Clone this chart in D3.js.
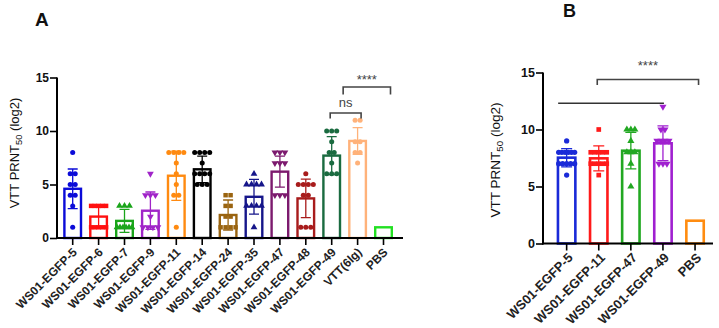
<!DOCTYPE html>
<html><head><meta charset="utf-8">
<script src="https://cdn.jsdelivr.net/npm/d3@7/dist/d3.min.js"></script>
<style>
html,body{margin:0;padding:0;background:#fff;}
svg{display:block;}
text{font-family:"Liberation Sans",Arial,sans-serif;}
</style></head>
<body>
<svg id="chart" width="719" height="328"></svg>
<script>
// ---------- Panel A data ----------
const catsA = ["WS01-EGFP-5","WS01-EGFP-6","WS01-EGFP-7","WS01-EGFP-9","WS01-EGFP-11","WS01-EGFP-14","WS01-EGFP-24","WS01-EGFP-35","WS01-EGFP-47","WS01-EGFP-48","WS01-EGFP-49","VTT(6lg)","PBS"];
const meansA = [4.6, 2.0, 1.6, 2.55, 5.82, 6.42, 2.15, 3.85, 6.2, 3.7, 7.7, 9.07, 1.0];
const sdA = [1.85, 1.05, 1.08, 1.75, 2.3, 1.24, 1.4, 1.62, 1.45, 1.8, 1.77, 1.25, 0];
const pointsA = [
  [8,6,6,5,5,4,4,3,1],
  [3,3,3,3,3,1,1,1,1,1],
  [3,3,3,1,1,1,1,1,1],
  [6,4,4,4,2,1,1,1,1],
  [8,8,8,8,7,6,5,4,4,1],
  [8,8,8,8,7,6,6,6,6,5,5,5],
  [4,4,3,3,2,2,1,1,1,1],
  [6,5,5,5,5,3,3,3,3,1],
  [8,8,8,7,7,7,4,4,4],
  [6,5,5,5,5,4,4,1,1,1],
  [10,10,10,9,8,8,7,6,6,6],
  [11,11,9,9,8,8,7],
  []
];
const colorsA = ["#0b0bd8","#ff1010","#1aa51a","#a024c8","#ff8a10","#000000","#9a6410","#16168a","#7c1a6e","#a81c1c","#1a6b40","#ffb27a","#22e022"];
const shapesA = ["circle","square","triangle","tridown","circle","circle","square","triangle","tridown","circle","circle","circle","none"];
// ---------- Panel B data ----------
const catsB = ["WS01-EGFP-5","WS01-EGFP-11","WS01-EGFP-47","WS01-EGFP-49","PBS"];
const meansB = [7.53, 7.47, 8.14, 8.79, 2.0];
const sdB = [0.8, 1.1, 1.6, 1.52, 0];
const pointsB = [
  [9,8,8,8,8,8,8,7,7,7,7,7,6],
  [10,8,8,8,8,8,7,7,7,7,7,6],
  [10,10,10,9,8,8,8,7,5],
  [12,10,10,9,9,9,9,7,7,7],
  []
];
const colorsB = ["#1a2ad8","#ff1a1a","#22a822","#a020d0","#ff8c10"];
const shapesB = ["circle","square","triangle","tridown","none"];
const yTicks = [0,5,10,15];

const svg = d3.select("#chart");

function symbolPath(shape, size){
  if(shape==="circle") return d3.symbol(d3.symbolCircle, size)();
  if(shape==="square") return d3.symbol(d3.symbolSquare, size)();
  return d3.symbol(d3.symbolTriangle, size)();
}

function panel(cfg){
  const g = svg.append("g");
  const y = d3.scaleLinear().domain([0,15]).range([cfg.y0, cfg.y15]);
  const x = d3.scaleBand().domain(cfg.cats).range(cfg.xRange).padding(0);
  const bw = cfg.barW;
  const sw = cfg.barStroke;

  // bars
  g.selectAll("rect.bar").data(cfg.cats).join("rect")
    .attr("x", (d)=> x(d)+x.bandwidth()/2 - bw/2 + sw/2)
    .attr("width", bw - sw)
    .attr("y", (d,i)=> y(cfg.means[i]))
    .attr("height", (d,i)=> y(0) - y(cfg.means[i]))
    .attr("fill","none")
    .attr("stroke",(d,i)=>cfg.colors[i])
    .attr("stroke-width", sw);

  // error bars
  cfg.cats.forEach((c,i)=>{
    if(cfg.sd[i]<=0) return;
    const cx = x(c)+x.bandwidth()/2;
    const top = y(cfg.means[i]+cfg.sd[i]);
    const bot = y(Math.max(0,cfg.means[i]-cfg.sd[i]));
    const cw = cfg.capW/2;
    g.append("path")
      .attr("d", `M${cx},${top}V${bot}M${cx-cw},${top}H${cx+cw}M${cx-cw},${bot}H${cx+cw}`)
      .attr("stroke", cfg.colors[i]).attr("stroke-width",1.3).attr("fill","none");
  });

  // points
  cfg.cats.forEach((c,i)=>{
    const pts = cfg.points[i];
    if(!pts.length || cfg.shapes[i]==="none") return;
    const cx = x(c)+x.bandwidth()/2;
    const groups = d3.group(pts, v=>v);
    groups.forEach((arr, v)=>{
      const k = arr.length;
      const sp = k>1 ? Math.min(cfg.spacing, (bw-4)/(k-1)) : 0;
      arr.forEach((_,j)=>{
        const px = cx + (j-(k-1)/2)*sp;
        const py = y(v);
        const shape = cfg.shapes[i];
        g.append("path")
          .attr("d", symbolPath(shape, cfg.symSize))
          .attr("transform", `translate(${px},${py})` + (shape==="tridown"?" rotate(180)":""))
          .attr("fill", cfg.colors[i]);
      });
    });
  });

  // y axis
  const ya = g.append("g").attr("transform",`translate(${cfg.axisX},0)`)
    .call(d3.axisLeft(y).tickValues(yTicks).tickSize(7).tickSizeOuter(0).tickPadding(1));
  ya.select(".domain").attr("stroke","#000").attr("stroke-width",2)
    .attr("d", `M0,${cfg.y15}V${cfg.y0+1}`);
  ya.selectAll(".tick line").attr("stroke","#000").attr("stroke-width",1.6);
  ya.selectAll(".tick text").attr("font-size",cfg.tickFont).attr("font-weight","bold")
    .attr("font-family","Liberation Sans, Arial, sans-serif").attr("fill","#111");

  // x axis
  const xa = g.append("g").attr("transform",`translate(0,${cfg.y0})`)
    .call(d3.axisBottom(x).tickSize(7).tickSizeOuter(0).tickPadding(2));
  xa.select(".domain").attr("stroke","#000").attr("stroke-width",2)
    .attr("d", `M${cfg.axisX-1},0H${cfg.xEnd}`);
  xa.selectAll(".tick line").attr("stroke","#000").attr("stroke-width",1.6);
  xa.selectAll(".tick text")
    .attr("font-size",cfg.xFont).attr("font-weight","bold")
    .attr("font-family","Liberation Sans, Arial, sans-serif").attr("fill","#222")
    .attr("text-anchor","end")
    .attr("dy",null)
    .attr("y",null)
    .attr("transform",`translate(${cfg.labDx},${cfg.labDy}) rotate(-45)`);

  // y label
  const lab = g.append("text")
    .attr("transform",`translate(${cfg.labX},${cfg.labY}) rotate(-90)`)
    .attr("text-anchor","middle")
    .attr("font-size",cfg.yLabFont).attr("fill","#111");
  lab.append("tspan").text("VTT PRNT");
  lab.append("tspan").attr("font-size",cfg.yLabFont*0.72).attr("dy",3).text("50");
  lab.append("tspan").attr("dy",-3).text(" (log2)");

  // panel letter
  g.append("text").attr("x",cfg.letterX).attr("y",cfg.letterY)
    .attr("font-family","Liberation Serif, Times New Roman, serif")
    .attr("font-weight","bold").attr("font-size",cfg.letterSize).attr("fill","#111")
    .text(cfg.letter);
  return {g,x,y};
}

const A = panel({
  cats:catsA, means:meansA, sd:sdA, points:pointsA, colors:colorsA, shapes:shapesA,
  y0:238, y15:77.5, xRange:[59.75,396.45], barW:19, barStroke:2.4, capW:10,
  spacing:5, symSize:20, axisX:57, xEnd:403, tickFont:12, xFont:12,
  labDx:5, labDy:15, labX:19, labY:153, yLabFont:13, letter:"A", letterX:35, letterY:26, letterSize:19
});

const B = panel({
  cats:catsB, means:meansB, sd:sdB, points:pointsB, colors:colorsB, shapes:shapesB,
  y0:243.5, y15:72.5, xRange:[550.6,711.1], barW:20, barStroke:2.6, capW:11,
  spacing:4, symSize:22, axisX:543, xEnd:713, tickFont:12.5, xFont:13,
  labDx:7, labDy:15, labX:500, labY:160, yLabFont:13.5, letter:"B", letterX:563, letterY:17, letterSize:18
});

// significance annotations
function bracket(g, x1, x2, yLine, yLeg, label, ly, color, fsize, legs){
  let d = legs ? `M${x1},${yLeg}V${yLine}H${x2}V${yLeg}` : `M${x1},${yLine}H${x2}`;
  g.append("path").attr("d",d).attr("fill","none").attr("stroke",color).attr("stroke-width",1.6);
  if(label){
    g.append("text").attr("x",(x1+x2)/2).attr("y",ly).attr("text-anchor","middle")
      .attr("font-size",fsize).attr("fill",color).text(label);
  }
}
// Panel A brackets: ns between EGFP-49 and VTT; **** between ns-bracket and PBS
const xa = c => A.x(c) + A.x.bandwidth()/2;
bracket(A.g, xa("WS01-EGFP-49")-1.5, xa("VTT(6lg)")+3.5, 113, 118.5, "ns", 107, "#444", 13, true);
bracket(A.g, (xa("WS01-EGFP-49")+xa("VTT(6lg)"))/2-1.5, xa("PBS")+7, 87, 94.5, "****", 84, "#444", 13, true);
// Panel B
const xb = c => B.x(c) + B.x.bandwidth()/2;
bracket(B.g, xb("WS01-EGFP-5")-8.5, xb("WS01-EGFP-49")+1, 103.3, 108, null, 0, "#333", 13, false);
bracket(B.g, xb("WS01-EGFP-11")-1.5, xb("PBS")+3.5, 79.5, 85, "****", 70, "#444", 13, true);
</script>
</body></html>
